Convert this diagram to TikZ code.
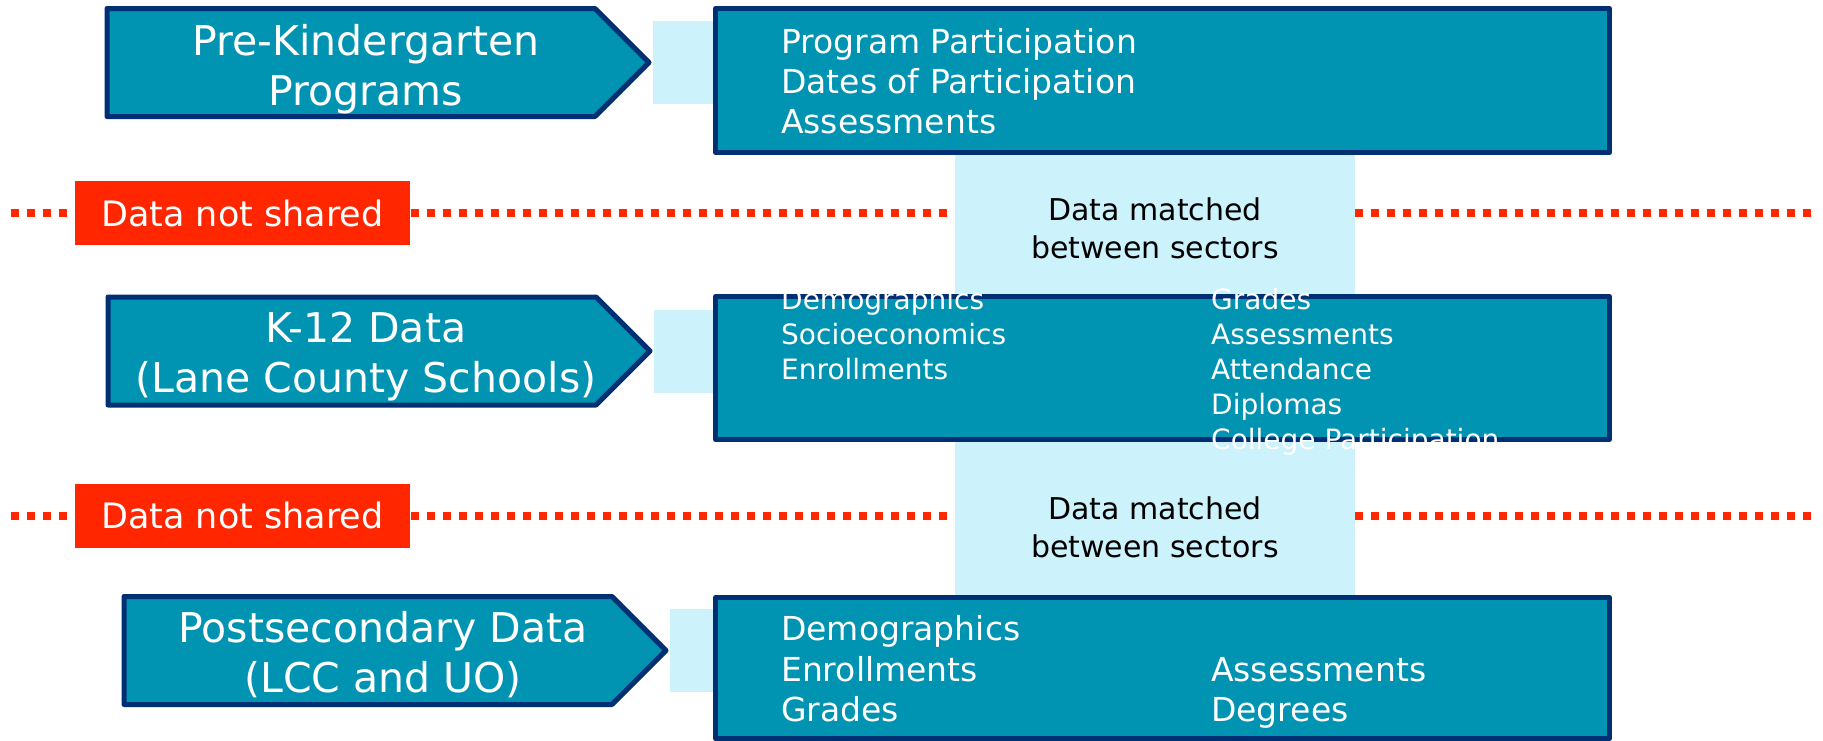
\documentclass[tikz,border=0pt]{standalone}
\usepackage{fontspec}
\setmainfont{DejaVu Sans}
\usetikzlibrary{shapes.symbols,backgrounds}
\definecolor{sectorfill}{RGB}{0,147,178}
\definecolor{sectorline}{RGB}{0,48,115}
\definecolor{matchband}{RGB}{204,242,252}
\definecolor{cutred}{RGB}{255,38,0}

\begin{document}
\begin{tikzpicture}[x=1pt, y=-1pt]
	\tikzstyle{sector} = [draw=sectorline, fill=sectorfill, line width=5pt, line join=round, shape=signal, signal to=east, signal pointer angle=90, inner xsep=244pt, inner ysep=54pt];
	\tikzstyle{record} = [draw=sectorline, fill=sectorfill, line width=5pt, line join=round, rectangle, minimum width=894pt, inner sep=0pt];
	\tikzstyle{sectortitle} = [text=white, align=center, inner sep=0pt, anchor=base, font={\fontsize{41}{50}\selectfont}];
	\tikzstyle{item} = [text=white, inner sep=0pt, anchor=base west];
	\tikzstyle{gapbox} = [fill=cutred, text=white, minimum width=335pt, minimum height=64pt, inner sep=0pt, font={\fontsize{35}{42}\selectfont}];
	\tikzstyle{matchtext} = [align=center, inner sep=0pt, anchor=base, font={\fontsize{30}{38}\selectfont}];
	\tikzstyle{band} = [matchband, line width=83pt];
	\tikzstyle{cutline} = [cutred, line width=8pt, dash pattern=on 8pt off 8pt];

	\path[use as bounding box] (0,0) rectangle (1823,740);

	% sectors and their records
	\node[sector] (pk) at (351,62.5) {};
	\node[sector] (k12) at (352,351) {};
	\node[sector] (ps) at (368,650.5) {};
	% base = last line
	\node[sectortitle] (pkT) at (366,105.5) {Pre-Kindergarten\\Programs};
	\node[sectortitle] (k12T) at (366,392.5) {K-12 Data\\(Lane County Schools)};
	\node[sectortitle] (psT) at (383,692.5) {Postsecondary Data\\(LCC and UO)};

	\node[record, minimum height=144pt] (pkbox) at (1162.5,80.5) {};
	\node[record, minimum height=143pt] (k12box) at (1162.5,368) {};
	\node[record, minimum height=141pt] (psbox) at (1162.5,668) {};

	\foreach \t [count=\i] in {Program Participation, Dates of Participation, Assessments}
		\node[item, font={\fontsize{33}{40}\selectfont}] (pkL\i) at (781, 13+40*\i) {\t};
	\foreach \t [count=\i] in {Demographics, Socioeconomics, Enrollments}
		\node[item, font={\fontsize{28}{35}\selectfont}] (k12L\i) at (781, 274+35*\i) {\t};
	\foreach \t [count=\i] in {Grades, Assessments, Attendance, Diplomas, College Participation}
		\node[item, font={\fontsize{28}{35}\selectfont}] (k12R\i) at (1211, 274+35*\i) {\t};
	\foreach \t [count=\i] in {Demographics, Enrollments, Grades}
		\node[item, font={\fontsize{33}{40}\selectfont}] (psL\i) at (781, 600+40.5*\i) {\t};
	\foreach \t [count=\i] in {Assessments, Degrees}
		\node[item, font={\fontsize{33}{40}\selectfont}] (psR\i) at (1211, 640.5+40.5*\i) {\t};

	% cuts between sectors
	\node[gapbox] (gap1) at (242.5,213) {Data not shared};
	\node[gapbox] (gap2) at (242.5,515.5) {Data not shared};
	\node[matchtext] (match1) at (1155,258) {Data matched\\between sectors};
	\node[matchtext] (match2) at (1155,557) {Data matched\\between sectors};

	\coordinate (cut1w) at (11,213);
	\coordinate (cut1e) at (1811,213);
	\coordinate (cut2w) at (11,515.5);
	\coordinate (cut2e) at (1811,515.5);

	\begin{scope}[on background layer]
		\draw[cutline] (cut1w) -- (cut1e);
		\draw[cutline] (cut2w) -- (cut2e);
		\draw[band, line width=400pt] ([xshift=-7.5pt]pkbox.south) -- ([xshift=-7.5pt]psbox.north);
		\draw[band] (pk) -- (pk -| pkbox);
		\draw[band] (k12) -- (k12 -| k12box);
		\draw[band] (ps) -- (ps -| psbox);
	\end{scope}
\end{tikzpicture}
\end{document}
